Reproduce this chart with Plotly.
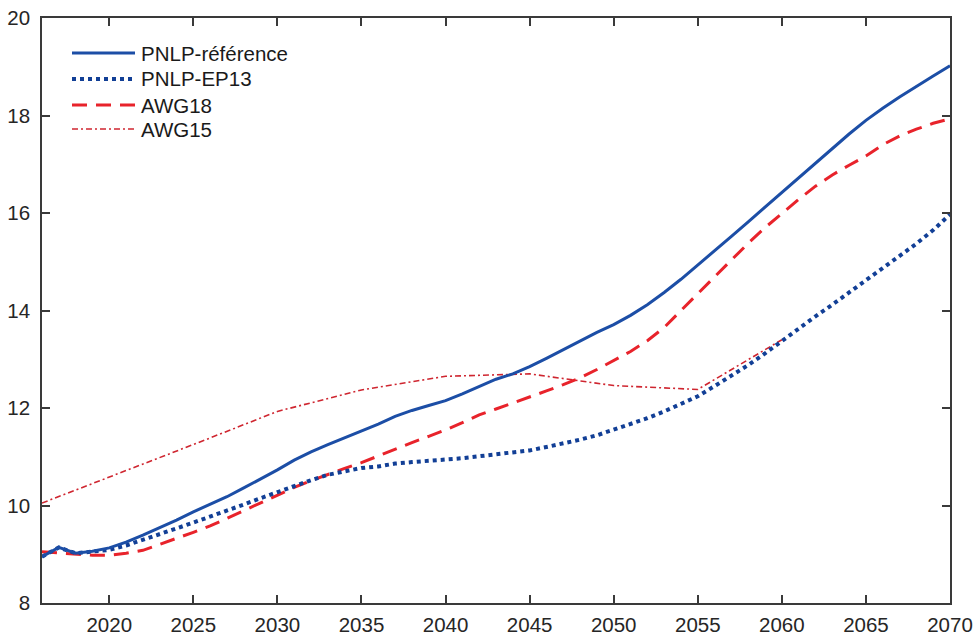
import plotly.graph_objects as go

years = list(range(2016, 2071))

pnlp_ref = [8.95, 9.14, 9.02, 9.06, 9.13, 9.25, 9.39, 9.54, 9.70, 9.87,
            10.02, 10.18, 10.36, 10.54, 10.73, 10.93, 11.10, 11.25, 11.39, 11.52,
            11.67, 11.83, 11.95, 12.05, 12.15, 12.29, 12.44, 12.59, 12.70, 12.85,
            13.02, 13.20, 13.38, 13.55, 13.71, 13.90, 14.12, 14.37, 14.64, 14.93,
            15.23, 15.52, 15.82, 16.12, 16.43, 16.72, 17.02, 17.33, 17.62, 17.90,
            18.15, 18.38, 18.60, 18.81, 19.02]

pnlp_ep13 = [8.95, 9.14, 9.02, 9.05, 9.09, 9.18, 9.29, 9.41, 9.53, 9.65,
             9.77, 9.88, 10.02, 10.15, 10.28, 10.40, 10.52, 10.63, 10.71, 10.77,
             10.80, 10.86, 10.89, 10.91, 10.93, 10.97, 11.01, 11.05, 11.09, 11.13,
             11.20, 11.27, 11.35, 11.44, 11.55, 11.66, 11.79, 11.93, 12.08, 12.24,
             12.45, 12.66, 12.88, 13.12, 13.38, 13.63, 13.88, 14.12, 14.37, 14.62,
             14.87, 15.12, 15.37, 15.65, 15.97]

awg18 = [9.05, 9.03, 9.00, 8.98, 8.98, 9.02, 9.08, 9.20, 9.33, 9.45,
         9.58, 9.74, 9.90, 10.06, 10.22, 10.37, 10.51, 10.64, 10.76, 10.88,
         11.02, 11.15, 11.29, 11.42, 11.55, 11.70, 11.86, 11.98, 12.10, 12.22,
         12.35, 12.48, 12.62, 12.79, 12.98, 13.16, 13.38, 13.65, 14.00, 14.35,
         14.70, 15.05, 15.38, 15.70, 15.99, 16.28, 16.55, 16.78, 16.98, 17.17,
         17.40, 17.58, 17.72, 17.84, 17.93]

awg15_years = [2016, 2020, 2025, 2030, 2035, 2040, 2045, 2050, 2055, 2060]
awg15 = [10.05, 10.58, 11.25, 11.93, 12.37, 12.65, 12.70, 12.46, 12.38, 13.40]

x_ticks = [2020, 2025, 2030, 2035, 2040, 2045, 2050, 2055, 2060, 2065, 2070]
y_ticks = [8, 10, 12, 14, 16, 18, 20]

names = ["PNLP-référence", "PNLP-EP13", "AWG18", "AWG15"]

BLUE = "#1c4ea6"
DBLUE = "#123f96"
RED = "#e8232b"
RED2 = "#cf2630"
FONT = "Liberation Sans, Arial, sans-serif"

styles = [
    dict(color=BLUE, width=3, dash="solid"),
    dict(color=DBLUE, width=4, dash="4px,4px"),
    dict(color=RED, width=3, dash="15px,9px"),
    dict(color=RED2, width=1.6, dash="6px,3px,2px,3px"),
]

fig = go.Figure()
fig.add_trace(go.Scatter(x=awg15_years, y=awg15, mode="lines", name=names[3],
                         line=styles[3], showlegend=False))
fig.add_trace(go.Scatter(x=years, y=awg18, mode="lines", name=names[2],
                         line=styles[2], showlegend=False))
fig.add_trace(go.Scatter(x=years, y=pnlp_ep13, mode="lines", name=names[1],
                         line=styles[1], showlegend=False))
fig.add_trace(go.Scatter(x=years, y=pnlp_ref, mode="lines", name=names[0],
                         line=styles[0], showlegend=False))

# custom legend (MATLAB style, long line samples)
W, H = 975, 635
ml, mr, mt, mb = 42, 25, 18, 32
pw, ph = W - ml - mr, H - mt - mb
shapes = []
annotations = []
rows_y = [53, 79, 105, 129]
for name, st, ry in zip(names, styles, rows_y):
    yp = 1 - (ry - mt) / ph
    x0 = (72 - ml) / pw
    x1 = (135 - ml) / pw
    shapes.append(dict(type="line", xref="paper", yref="paper", x0=x0, x1=x1,
                       y0=yp, y1=yp, line=st))
    annotations.append(dict(xref="paper", yref="paper", x=(139 - ml) / pw, y=yp,
                            text=name, showarrow=False, xanchor="left",
                            yanchor="middle",
                            font=dict(size=20.5, color="#1a1a1a", family=FONT)))

axis_common = dict(
    showgrid=False, zeroline=False, showline=True, linecolor="#3a3a3a",
    linewidth=1.5, mirror="ticks", ticks="inside", ticklen=8, tickwidth=1.5,
    tickcolor="#3a3a3a", automargin=False,
    tickfont=dict(size=20.5, color="#262626", family=FONT),
)

fig.update_layout(
    width=W, height=H,
    margin=dict(l=ml, r=mr, t=mt, b=mb, pad=0),
    paper_bgcolor="white", plot_bgcolor="white",
    showlegend=False,
    shapes=shapes, annotations=annotations,
    xaxis=dict(range=[2016, 2070], tickvals=x_ticks,
               ticktext=[str(v) for v in x_ticks], ticklabelstandoff=3,
               **axis_common),
    yaxis=dict(range=[8, 20], tickvals=y_ticks,
               ticktext=[str(v) for v in y_ticks], ticklabelstandoff=6,
               **axis_common),
)

fig.write_html("out.html",
               config={"displayModeBar": False},
               post_script="document.body.style.margin='0';"
                           "document.body.style.overflow='hidden';")
